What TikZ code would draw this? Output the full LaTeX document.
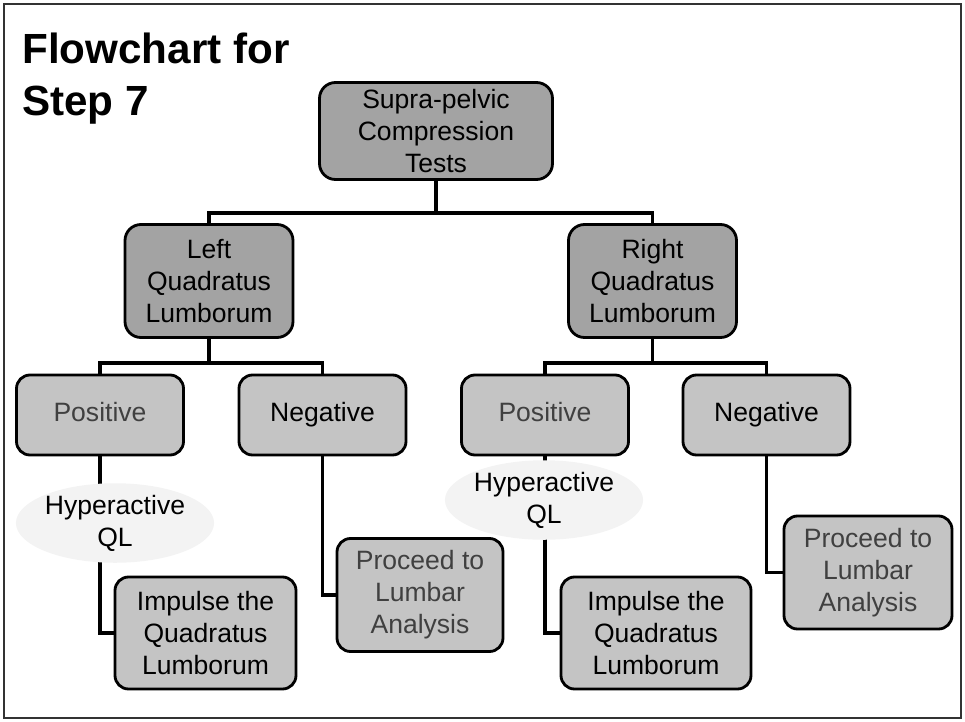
\documentclass[tikz,border=0pt]{standalone}
\usepackage{fontspec}
\setmainfont{Liberation Sans}
\usepackage{xcolor}
\usetikzlibrary{shapes.geometric, positioning, backgrounds}
\definecolor{darkbox}{HTML}{A3A3A3}
\definecolor{lightbox}{HTML}{C4C4C4}
\definecolor{haze}{HTML}{F3F3F3}
\definecolor{softtext}{HTML}{404040}
\definecolor{framecolor}{HTML}{333333}

\begin{document}
\begin{tikzpicture}[
    testbox/.style={rectangle, draw=black, fill=darkbox, line width=1.6pt,
                    rounded corners=0.32cm, minimum width=#1, minimum height=2.26cm,
                    align=center, inner sep=2pt, font=\fontsize{15.1}{18.2}\selectfont},
    result/.style={rectangle, draw=black, fill=lightbox, line width=1.6pt,
                   rounded corners=0.27cm, minimum width=3.34cm, minimum height=1.6cm,
                   align=center, font=\fontsize{15.1}{18.2}\selectfont},
    outcome/.style={result, text height=0.72em, text depth=0pt},
    action/.style={result, minimum width=#1, minimum height=2.24cm},
    finding/.style={ellipse, fill=haze, minimum width=3.96cm, minimum height=1.54cm,
                    inner sep=0pt, align=center, font=\fontsize{15.1}{18.2}\selectfont},
    link/.style={line width=2pt, color=black}
]
\useasboundingbox (0,0) rectangle (19.3,-14.42);

% Heading
\node[anchor=north west, inner sep=0pt, align=left,
      font=\fontsize{24}{29.5}\selectfont\bfseries] (heading) at (0.44,-0.66)
      {Flowchart for\\Step 7};

% Tests and sides
\node[testbox=4.66cm, minimum height=1.94cm] (tests) at (8.72,-2.62)
      {Supra-pelvic\\Compression\\Tests};
\node[testbox=3.36cm] (leftql) at (4.18,-5.62) {Left\\Quadratus\\Lumborum};
\node[testbox=3.36cm] (rightql) at (13.05,-5.62) {Right\\Quadratus\\Lumborum};

% Outcomes
\node[outcome, text=softtext] (lpos) at (2.00,-8.30) {Positive};
\node[outcome] (lneg) at (6.45,-8.30) {Negative};
\node[outcome, text=softtext] (rpos) at (10.90,-8.30) {Positive};
\node[outcome] (rneg) at (15.33,-8.30) {Negative};

% Findings and follow-up
\node[finding] (lhyper) at (2.30,-10.46) {Hyperactive\\QL};
\node[finding] (rhyper) at (10.88,-10.00) {Hyperactive\\QL};
\node[action=3.62cm] (limp) at (4.11,-12.66) {Impulse the\\Quadratus\\Lumborum};
\node[action=3.80cm] (rimp) at (13.12,-12.66) {Impulse the\\Quadratus\\Lumborum};
\node[action=3.32cm, minimum height=2.26cm, text=softtext] (lproc) at (8.40,-11.90)
      {Proceed to\\Lumbar\\Analysis};
\node[action=3.36cm, minimum height=2.26cm, text=softtext] (rproc) at (17.36,-11.45)
      {Proceed to\\Lumbar\\Analysis};

% Branch points
\coordinate (topbus) at (8.72,-4.26);
\coordinate (leftbus) at (4.18,-7.26);
\coordinate (rightbus) at (13.05,-7.26);

\begin{scope}[on background layer]
    \draw[link] (tests.south) -- (topbus) -| (leftql.north);
    \draw[link] (topbus) -| (rightql.north);
    \draw[link] (leftql.south) -- (leftbus) -| (lpos.north);
    \draw[link] (leftbus) -| (lneg.north);
    \draw[link] (rightql.south) -- (rightbus) -| (rpos.north);
    \draw[link] (rightbus) -| (rneg.north);
    % follow-up paths run behind the findings
    \draw[link] (lpos.south) |- (limp.west);
    \draw[link] (rpos.south) |- (rimp.west);
    \draw[link] (lneg.south) |- (lproc.west);
    \draw[link] (rneg.south) |- (rproc.west);
\end{scope}

% Outer frame
\draw[framecolor, line width=1.2pt] (0.08,-0.08) rectangle (19.22,-14.36);

\end{tikzpicture}
\end{document}
